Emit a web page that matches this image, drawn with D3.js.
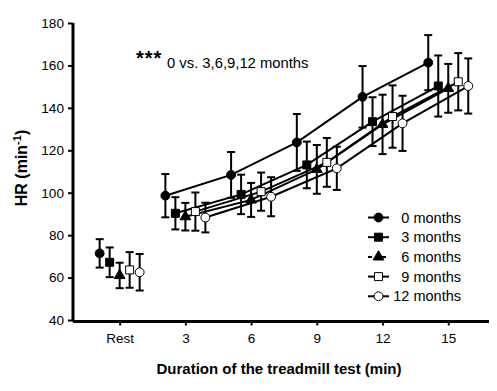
<!DOCTYPE html>
<html>
<head>
<meta charset="utf-8">
<script src="https://cdn.jsdelivr.net/npm/d3@7"></script>
<style>
  body { margin: 0; background: #fff; }
  text { font-family: "Liberation Sans", Arial, sans-serif; fill: #000; }
</style>
</head>
<body>
<div id="wrapper"></div>
<script>
// data
const timePoints = [0, 3, 6, 9, 12, 15]
const timeLabels = ["Rest", "3", "6", "9", "12", "15"]
const seriesNames = ["0 months", "3 months", "6 months", "9 months", "12 months"]
const seriesSymbols = ["circle", "square", "triangle", "square", "circle"]
const seriesFilled = [true, true, true, false, false]

const hr0 = [71.4, 98.6, 108.4, 123.7, 145.2, 161.3]
const sd0 = [6.7, 10.2, 10.8, 13.4, 14.5, 13.0]
const hr3 = [67.2, 90.3, 99.2, 113.1, 133.5, 150.3]
const sd3 = [7.0, 7.6, 9.3, 11.0, 11.5, 14.4]
const hr6 = [61.0, 88.7, 96.6, 111.0, 132.2, 149.2]
const sd6 = [6.0, 6.5, 8.0, 11.5, 14.0, 11.5]
const hr9 = [63.6, 91.1, 100.5, 114.3, 135.9, 152.3]
const sd9 = [8.4, 9.0, 9.0, 11.5, 14.7, 13.5]
const hr12 = [62.5, 88.3, 98.1, 111.5, 132.7, 150.3]
const sd12 = [8.6, 7.0, 9.2, 10.2, 13.0, 13.0]

const yTicks = [40, 60, 80, 100, 120, 140, 160, 180]

const means = [hr0, hr3, hr6, hr9, hr12]
const sds = [sd0, sd3, sd6, sd9, sd12]

const series = seriesNames.map((name, i) => ({
  name, i,
  symbol: seriesSymbols[i],
  filled: seriesFilled[i],
  values: timePoints.map((t, j) => ({ t, y: means[i][j], sd: sds[i][j], s: i }))
}))

const width = 497
const height = 391
const dodge = 10

const svg = d3.select("#wrapper").append("svg")
  .attr("width", width)
  .attr("height", height)

const xScale = d3.scaleLinear().domain([-2.13, 16.86]).range([73, 489])
const yScale = d3.scaleLinear().domain([40, 180]).range([320, 23])

// small horizontal dodge so the five groups don't overlap
const px = d => xScale(d.t) + (d.s - 2) * dodge

// axes
const yAxis = svg.append("g")
  .attr("transform", `translate(${xScale.range()[0]},0)`)
  .call(d3.axisLeft(yScale).tickValues(yTicks).tickSize(5).tickPadding(4))
yAxis.select(".domain").attr("stroke-width", 3).attr("d", `M0,${yScale(180)}V${yScale(40) + 1.5}`)
yAxis.selectAll(".tick line").attr("stroke-width", 2)
yAxis.selectAll("text").style("font-size", "13.6px")

const xAxis = svg.append("g")
  .attr("transform", `translate(0,${yScale(40) + 1.5})`)
  .call(d3.axisBottom(xScale).tickValues(timePoints).tickFormat((d, i) => timeLabels[i])
    .tickSize(4).tickPadding(8))
xAxis.select(".domain").attr("stroke-width", 3).attr("d", `M${xScale.range()[0]},0H${xScale.range()[1]}`)
xAxis.selectAll(".tick line").attr("stroke-width", 2)
xAxis.selectAll("text").style("font-size", "13.5px")

// axis titles
svg.append("text")
  .attr("x", 279).attr("y", 374)
  .attr("text-anchor", "middle")
  .style("font-size", "15px").style("font-weight", "bold")
  .text("Duration of the treadmill test (min)")

const yTitle = svg.append("text")
  .attr("transform", "translate(27,168) rotate(-90)")
  .attr("text-anchor", "middle")
  .style("font-size", "16px").style("font-weight", "bold")
yTitle.append("tspan").text("HR (min")
yTitle.append("tspan").attr("dy", -6).style("font-size", "11px").text("-1")
yTitle.append("tspan").attr("dy", 6).text(")")

// annotation
svg.append("text").attr("x", 136).attr("y", 65)
  .style("font-size", "20px").style("font-weight", "bold")
  .style("letter-spacing", "1px")
  .text("***")
svg.append("text").attr("x", 167).attr("y", 68)
  .style("font-size", "14.8px")
  .text("0 vs. 3,6,9,12 months")

// lines (exercise stages only, rest is not joined)
const line = d3.line().x(px).y(d => yScale(d.y))

const marks = svg.append("g")

series.forEach(s => {
  marks.append("path")
    .attr("d", line(s.values.filter(d => d.t > 0)))
    .attr("fill", "none")
    .attr("stroke", "#000")
    .attr("stroke-width", 2)
})

const symbolFor = (name, size) => {
  const type = name === "circle" ? d3.symbolCircle : name === "square" ? d3.symbolSquare : d3.symbolTriangle
  return d3.symbol().type(type).size(size)()
}
const symbolSize = { circle: 62, square: 64, triangle: 50 }

// error bars
series.forEach(s => {
  const eb = marks.append("g").selectAll("g").data(s.values).join("g")
  eb.append("line")
    .attr("x1", px).attr("x2", px)
    .attr("y1", d => yScale(d.y + d.sd)).attr("y2", d => yScale(d.y - d.sd))
    .attr("stroke", "#000").attr("stroke-width", 2)
  eb.selectAll(".cap").data(d => [d.y + d.sd, d.y - d.sd].map(v => ({ ...d, v })))
    .join("line")
    .attr("x1", d => px(d) - 4).attr("x2", d => px(d) + 4)
    .attr("y1", d => yScale(d.v)).attr("y2", d => yScale(d.v))
    .attr("stroke", "#000").attr("stroke-width", 2)
})

// markers
series.forEach(s => {
  marks.append("g").selectAll("path").data(s.values).join("path")
    .attr("transform", d => `translate(${px(d)},${yScale(d.y)})`)
    .attr("d", symbolFor(s.symbol, symbolSize[s.symbol]))
    .attr("fill", s.filled ? "#000" : "#fff")
    .attr("stroke", "#000")
    .attr("stroke-width", 1)
})

// legend
const legend = svg.append("g")
const rows = legend.selectAll("g").data(series).join("g")
  .attr("transform", (d, i) => `translate(0,${217.5 + i * 19.7})`)
rows.append("line")
  .attr("x1", 368).attr("x2", 389)
  .attr("stroke", "#000").attr("stroke-width", 2)
  .attr("stroke-dasharray", d => d.symbol === "triangle" ? "4,3" : null)
rows.append("path")
  .attr("transform", "translate(378.5,0)")
  .attr("d", d => symbolFor(d.symbol, symbolSize[d.symbol]))
  .attr("fill", d => d.filled ? "#000" : "#fff")
  .attr("stroke", "#000").attr("stroke-width", 1)
rows.append("text")
  .attr("x", 461).attr("y", 5)
  .attr("text-anchor", "end")
  .style("font-size", "14.5px")
  .text(d => d.name)
</script>
</body>
</html>
